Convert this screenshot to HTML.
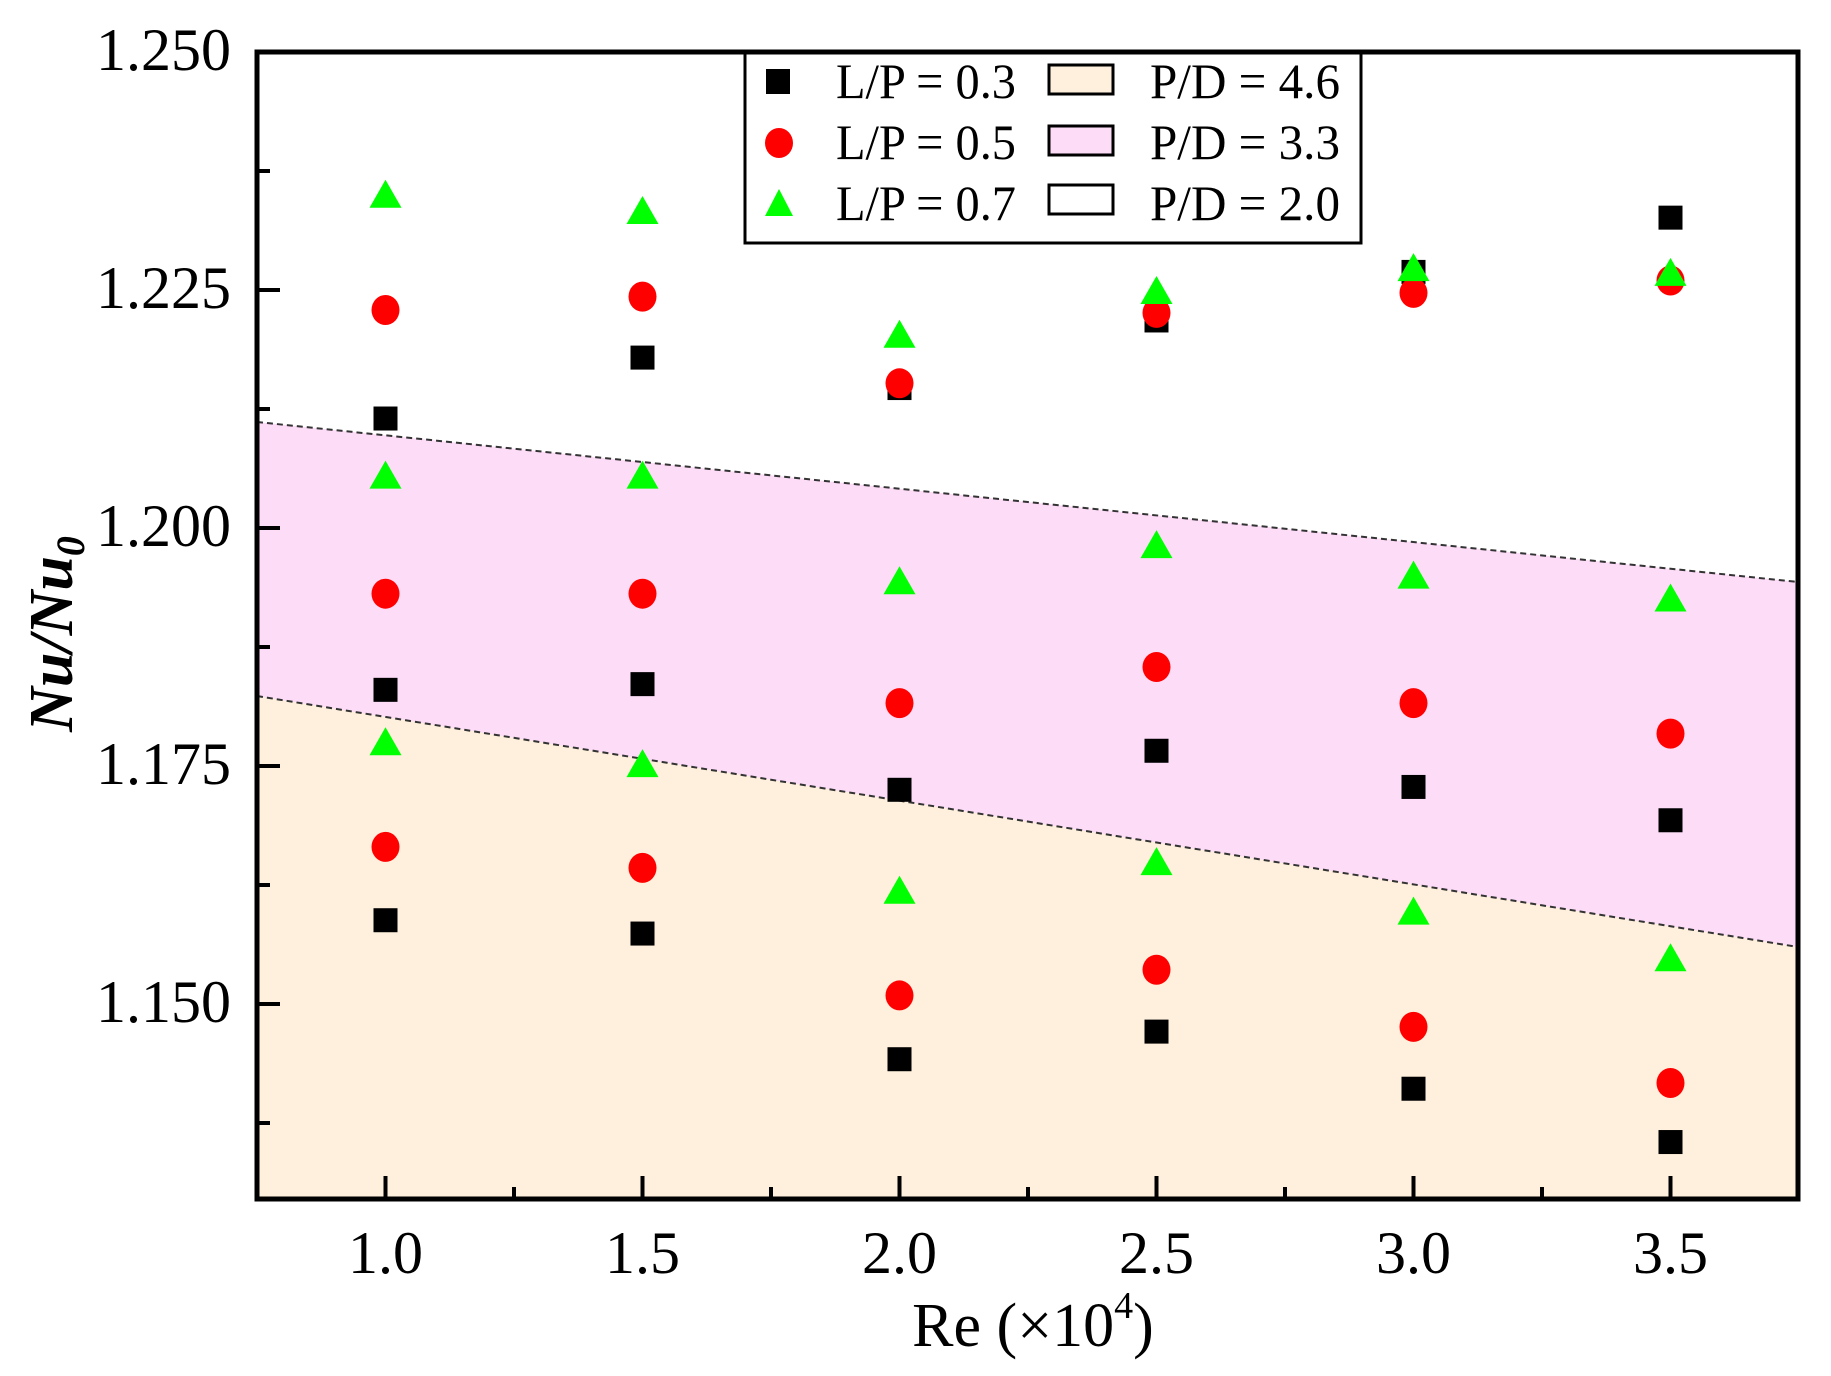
<!DOCTYPE html>
<html><head><meta charset="utf-8"><style>
html,body{margin:0;padding:0;background:#fff;}
svg{display:block;}
text{font-family:"Liberation Serif",serif;fill:#000;}
</style></head><body>
<svg id="s" width="1831" height="1376" viewBox="0 0 1831 1376" xmlns="http://www.w3.org/2000/svg">
<polygon points="257,422 1798,582 1798,1199 257,1199" fill="#fddcf8"/>
<polygon points="257,696 1798,947 1798,1199 257,1199" fill="#fef0dc"/>
<line x1="257" y1="422" x2="1798" y2="582" stroke="#333" stroke-width="2" stroke-dasharray="6,4"/>
<line x1="257" y1="696" x2="1798" y2="947" stroke="#333" stroke-width="2" stroke-dasharray="6,4"/>
<g id="pts"></g>
<rect x="257" y="52" width="1541" height="1147" fill="none" stroke="#000" stroke-width="5"/>
<g id="ticks" stroke="#000" stroke-width="4"></g>
<g font-size="60" text-anchor="end" id="yl"></g>
<g font-size="60" text-anchor="middle" id="xl"></g>
<text x="1033" y="1346" font-size="62" text-anchor="middle">Re (×10<tspan font-size="38" dy="-28">4</tspan><tspan dy="28">)</tspan></text>
<text transform="translate(72,634) rotate(-90)" font-size="62" text-anchor="middle" font-style="italic" font-weight="bold">Nu/Nu<tspan font-size="40" dy="12">0</tspan></text>
<rect x="745" y="53" width="616" height="190" fill="#fff" stroke="#000" stroke-width="3"/>
<rect x="766" y="69" width="24" height="25" fill="#000"/>
<ellipse cx="779" cy="143" rx="14" ry="15" fill="#f00"/>
<polygon points="765,216 793,216 779,189" fill="#0f0"/>
<g font-size="50">
<text x="836" y="98" textLength="180" lengthAdjust="spacingAndGlyphs">L/P = 0.3</text>
<text x="836" y="159" textLength="180" lengthAdjust="spacingAndGlyphs">L/P = 0.5</text>
<text x="836" y="220" textLength="180" lengthAdjust="spacingAndGlyphs">L/P = 0.7</text>
<text x="1150" y="98" textLength="190" lengthAdjust="spacingAndGlyphs">P/D = 4.6</text>
<text x="1150" y="159" textLength="190" lengthAdjust="spacingAndGlyphs">P/D = 3.3</text>
<text x="1150" y="220" textLength="190" lengthAdjust="spacingAndGlyphs">P/D = 2.0</text>
</g>
<rect x="1049" y="65" width="64" height="29" fill="#fef0dc" stroke="#000" stroke-width="3"/>
<rect x="1049" y="126" width="64" height="29" fill="#fddcf8" stroke="#000" stroke-width="3"/>
<rect x="1049" y="185" width="64" height="29" fill="#fff" stroke="#000" stroke-width="3"/>
</svg>
<script>
var NS="http://www.w3.org/2000/svg";
function X(v){return 257+(v-0.75)*514;}
function Y(v){return 52+(1.25-v)*9520;}
function el(p,t,a){var e=document.createElementNS(NS,t);for(var k in a)e.setAttribute(k,a[k]);p.appendChild(e);return e;}
var xs=[1,1.5,2,2.5,3,3.5];
var sq=[[1.2115,1.183,1.1588],[1.2179,1.1836,1.1574],[1.2147,1.1725,1.1442],[1.2218,1.1766,1.1471],[1.2269,1.1728,1.1411],[1.2326,1.1693,1.1355]];
var ci=[[1.2229,1.1931,1.1665],[1.2243,1.1931,1.1643],[1.2152,1.1816,1.1509],[1.2226,1.1854,1.1536],[1.2247,1.1816,1.1476],[1.2260,1.1784,1.1417]];
var tr=[[1.235,1.2055,1.1775],[1.2333,1.2055,1.1752],[1.2203,1.1944,1.1619],[1.2249,1.1982,1.1649],[1.2273,1.195,1.1597],[1.2268,1.1926,1.1548]];
var g=document.getElementById('pts');
for(var i=0;i<6;i++){var x=X(xs[i]);
 for(var j=0;j<3;j++){var y=Y(sq[i][j]);el(g,'rect',{x:x-12,y:y-12,width:24,height:24,fill:'#000'});}
 for(var j=0;j<3;j++){var y=Y(ci[i][j]);el(g,'ellipse',{cx:x,cy:y,rx:14,ry:15,fill:'#f00'});}
 for(var j=0;j<3;j++){var y=Y(tr[i][j]);el(g,'polygon',{points:(x-16)+','+(y+13)+' '+(x+16)+','+(y+13)+' '+x+','+(y-15),fill:'#0f0'});}
}
var tk=document.getElementById('ticks'),yl=document.getElementById('yl'),xl=document.getElementById('xl');
var labs=['1.250','1.225','1.200','1.175','1.150'];
for(var k=0;k<5;k++){var v=1.25-0.025*k,y=Y(v);el(tk,'line',{x1:257,y1:y,x2:280,y2:y});var t=el(yl,'text',{x:231,y:y+18});t.textContent=labs[k];
 var y2=Y(v-0.0125);if(y2<1199)el(tk,'line',{x1:257,y1:y2,x2:270,y2:y2});}
for(var k=0;k<6;k++){var x=X(xs[k]);el(tk,'line',{x1:x,y1:1199,x2:x,y2:1176});var t=el(xl,'text',{x:x,y:1273});t.textContent=xs[k].toFixed(1);
 var x2=X(xs[k]+0.25);if(x2<1798)el(tk,'line',{x1:x2,y1:1199,x2:x2,y2:1187});}
</script>
</body></html>
